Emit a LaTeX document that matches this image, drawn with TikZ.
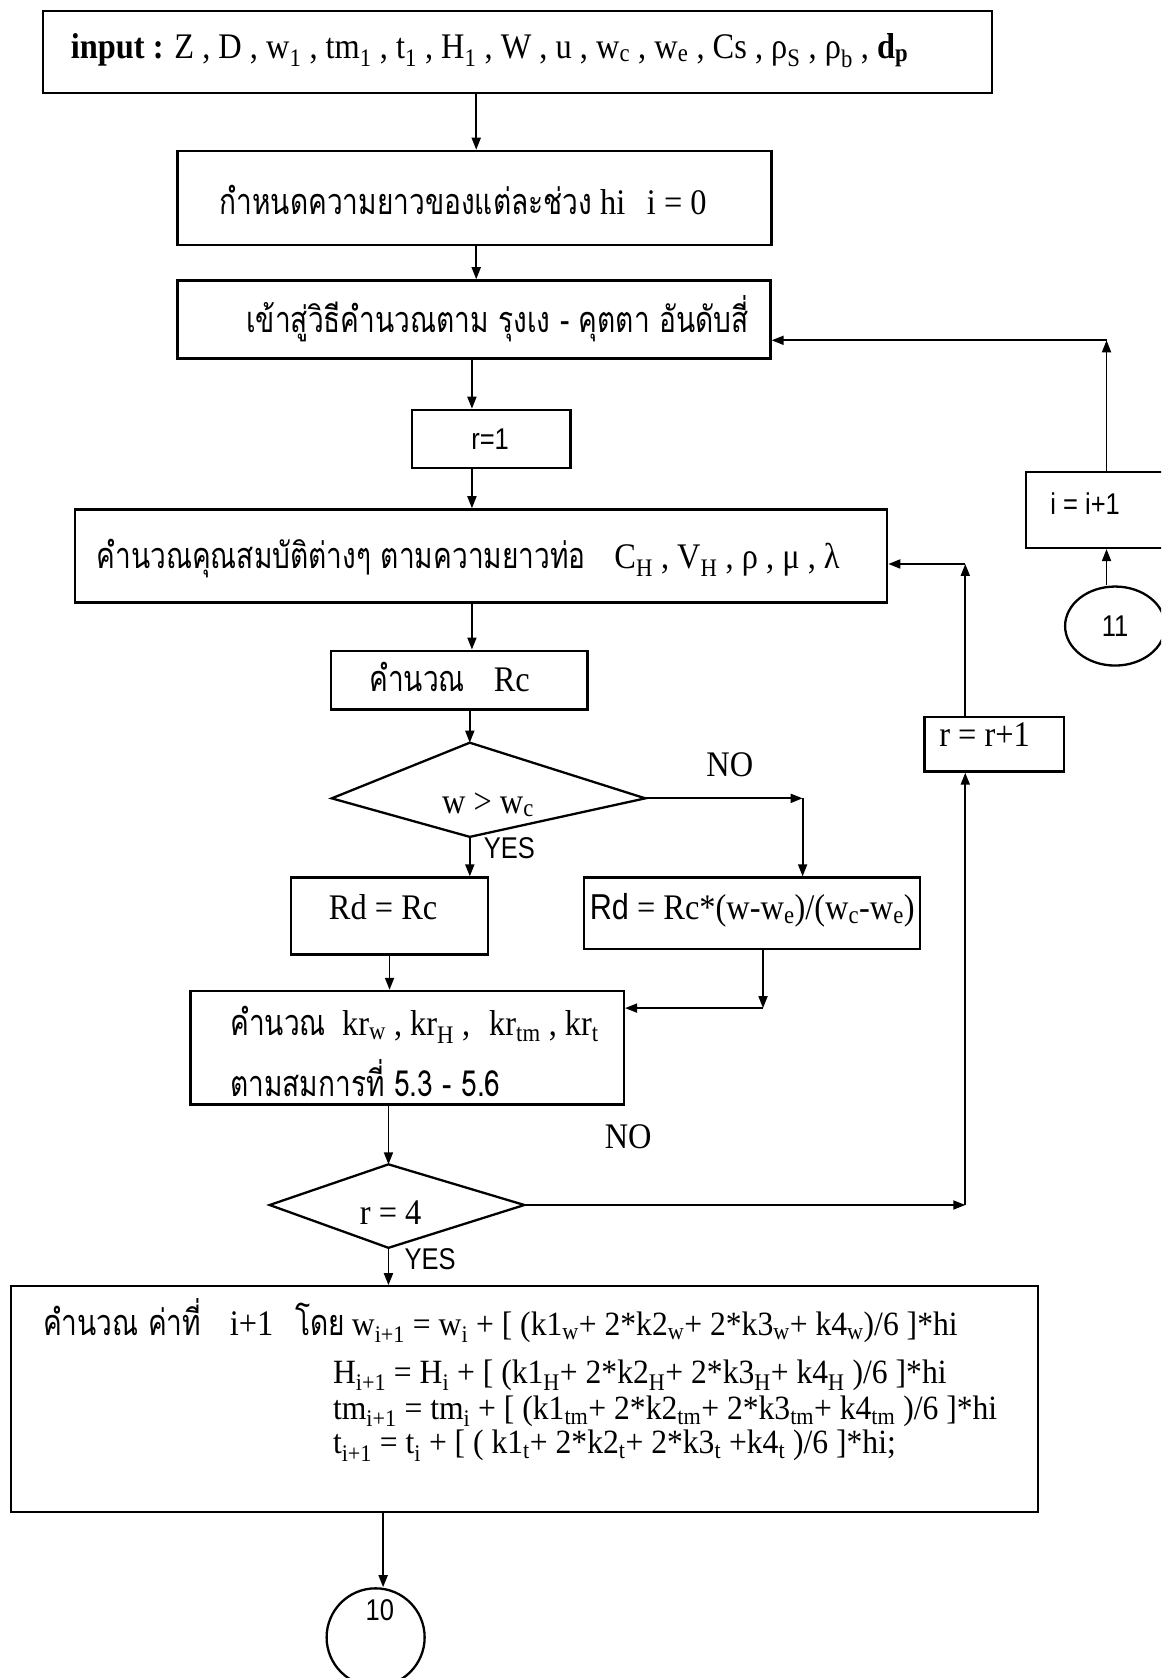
\documentclass[tikz,border=0pt]{standalone}
\usepackage{fontspec}
\setmainfont{Liberation Serif}[FakeStretch=0.9]
\setsansfont{Liberation Sans}[FakeStretch=0.85]
\newfontfamily\thai[Script=Thai,FakeStretch=0.78]{Loma}
\newfontfamily\eqfont{Liberation Serif}[FakeStretch=0.93]
\usetikzlibrary{arrows.meta,shapes.geometric,fit}
\newcommand\subx[1]{\textsubscript{#1}}
\tikzset{
  box/.style={draw, line width=2.3pt, inner sep=0pt},
  outline/.style={draw, line width=2.3pt, line join=miter},
  arr/.style={-{Triangle[length=12pt,width=9pt]}, line width=1.8pt},
  tx/.style={inner sep=0pt},
  sans/.style={font=\fontsize{30}{34}\selectfont\sffamily},
  eqs/.style={font=\fontsize{34}{38}\selectfont\eqfont}
}
\begin{document}
\begin{tikzpicture}[x=1.07pt,y=-1.07pt,font=\fontsize{36}{42}\selectfont]
\useasboundingbox (0,0) rectangle (1085,1568);
\clip (0,0) rectangle (1085,1568);
\fill[white] (0,0) rectangle (1085,1568);
% boxes
\node[box, fit={(40,10)(927,87)}] (in) {};
\node[tx, anchor=west] (intxt) at (66,47) {\textbf{input :} Z , D , w\subx{1} , tm\subx{1} , t\subx{1} , H\subx{1} , W , u , w\subx{c} , w\subx{e} , Cs , ρ\subx{S} , ρ\subx{b} , \textbf{d\subx{p}}};
\node[box, fit={(166,141)(721,229)}] (b2) {};
\node[tx, anchor=west] (b2txt) at (205,187) {{\thai กำหนดความยาวของแต่ละช่วง} hi\hspace{0.6em}i = 0};
\node[box, fit={(166,262)(720,335)}] (b3) {};
\node[tx, anchor=west] (b3txt) at (230,298) {\thai เข้าสู่วิธีคำนวณตาม รุงเง - คุตตา อันดับสี่};
\node[box, fit={(385,383)(533,437)}] (r1) {};
\node[tx, sans] (r1txt) at (458,410) {r=1};
\node[box, fit={(70,476)(829,563)}] (prop) {};
\node[tx, anchor=west] (proptxt) at (90,522) {{\thai คำนวณคุณสมบัติต่างๆ ตามความยาวท่อ}\hspace{0.8em}C\subx{H} , V\subx{H} , ρ , μ , λ};
\node[box, fit={(309,608)(549,663)}] (rc) {};
\node[tx, anchor=west] (rctxt) at (345,633) {{\thai คำนวณ}\hspace{0.8em}Rc};
% decision 1 (drawn as its outline, vertices named)
\coordinate (d1n) at (439,694);
\coordinate (d1e) at (603,746);
\coordinate (d1s) at (439,782);
\coordinate (d1w) at (310,746);
\draw[outline] (d1n) -- (d1e) -- (d1s) -- (d1w) -- cycle;
\node[tx] (d1txt) at (456,752) {w > w\subx{c}};
\node[tx] (no1) at (682,715) {NO};
\node[tx, sans] (yes1) at (476,793) {YES};
\node[box, fit={(272,820)(456,892)}] (rd1) {};
\node[tx] (rd1txt) at (358,848) {Rd = Rc};
\node[box, fit={(546,820)(860,887)}] (rd2) {};
\node[tx] (rd2txt) at (703,851) {{\sffamily Rd} = Rc*(w-w\subx{e})/(w\subx{c}-w\subx{e})};
\node[box, fit={(178,926)(583,1032)}] (kr) {};
\node[tx, anchor=west] (krtxt1) at (215,958) {{\thai คำนวณ}\hspace{0.45em}kr\subx{w} , kr\subx{H} ,\hspace{0.3em} kr\subx{tm} , kr\subx{t}};
\node[tx, anchor=west] (krtxt2) at (215,1007) {\thai ตามสมการที่ 5.3 - 5.6};
\node[tx] (no2) at (587,1062) {NO};
% decision 2
\coordinate (d2n) at (363,1088);
\coordinate (d2e) at (490,1126);
\coordinate (d2s) at (363,1166);
\coordinate (d2w) at (252,1126);
\draw[outline] (d2n) -- (d2e) -- (d2s) -- (d2w) -- cycle;
\node[tx] (d2txt) at (365,1133) {r = 4};
\node[tx, sans] (yes2) at (402,1177) {YES};
\node[box, fit={(864,670)(994,721)}] (rr) {};
\node[tx] (rrtxt) at (920,686) {r = r+1};
\node[box, fit={(959,441)(1110,512)}] (ii) {};
\node[tx, sans] (iitxt) at (1014,471) {i = i+1};
\node[box, shape=ellipse, minimum width=100pt, minimum height=79pt, sans] (c11) at (1042,585) {11};
\node[box, fit={(10,1202)(970,1413)}] (big) {};
\node[tx, anchor=west] (eq1) at (40,1234) {{\thai คำนวณ ค่าที่}\hspace{0.8em}i+1\hspace{0.6em}{\thai โดย}\hspace{0.2em}{\eqfont\fontsize{34}{38}\selectfont w\subx{i+1} = w\subx{i} + [ (k1\subx{w}+ 2*k2\subx{w}+ 2*k3\subx{w}+ k4\subx{w})/6 ]*hi}};
\node[tx, anchor=west, eqs] (eq2) at (311,1285) {H\subx{i+1} = H\subx{i} + [ (k1\subx{H}+ 2*k2\subx{H}+ 2*k3\subx{H}+ k4\subx{H} )/6 ]*hi};
\node[tx, anchor=west, eqs] (eq3) at (311,1319) {tm\subx{i+1} = tm\subx{i} + [ (k1\subx{tm}+ 2*k2\subx{tm}+ 2*k3\subx{tm}+ k4\subx{tm} )/6 ]*hi};
\node[tx, anchor=west, eqs] (eq4) at (311,1351) {t\subx{i+1} = t\subx{i} + [ ( k1\subx{t}+ 2*k2\subx{t}+ 2*k3\subx{t} +k4\subx{t} )/6 ]*hi;};
\node[box, shape=ellipse, minimum width=98pt, minimum height=98pt] (c10) at (351,1530) {};
\node[tx, sans] (c10txt) at (355,1505) {10};
% connector coordinates
\coordinate (v1) at (445,0);
\coordinate (v2) at (441,0);
\coordinate (v4) at (364,0);
\coordinate (v5) at (358,0);
\coordinate (v6) at (1034,0);
\coordinate (n1) at (750,746);
\coordinate (n2) at (713,942);
\coordinate (n3) at (902,1126);
\coordinate (n4) at (902,527);
\coordinate (n5) at (1034,318);
% connectors
\draw[arr] (in.south -| v1) -- (b2.north -| v1);
\draw[arr] (b2.south -| v1) -- (b3.north -| v1);
\draw[arr] (b3.south -| v2) -- (r1.north -| v2);
\draw[arr] (r1.south -| v2) -- (prop.north -| v2);
\draw[arr] (prop.south -| v2) -- (rc.north -| v2);
\draw[arr] (rc.south -| d1n) -- (d1n);
\draw[arr] (d1s) -- (rd1.north -| d1s);
\draw[arr] (d1e) -- (n1);
\draw[arr] (n1) -- (rd2.north -| n1);
\draw[arr] (rd1.south -| v4) -- (kr.north -| v4);
\draw[arr] (rd2.south -| n2) -- (n2);
\draw[arr] (n2) -- (kr.east |- n2);
\draw[arr] (kr.south -| d2n) -- (d2n);
\draw[arr] (d2e) -- (n3);
\draw[arr] (n3) -- (rr.south -| n3);
\draw[arr] (rr.north -| n4) -- (n4);
\draw[arr] (n4) -- (prop.east |- n4);
\draw[arr] (d2s) -- (big.north -| d2s);
\draw[arr] (big.south -| v5) -- (c10.north -| v5);
\draw[arr] (c11.north -| v6) -- (ii.south -| v6);
\draw[arr] (ii.north -| v6) -- (n5);
\draw[arr] (n5) -- (b3.east |- n5);
\end{tikzpicture}
\end{document}
